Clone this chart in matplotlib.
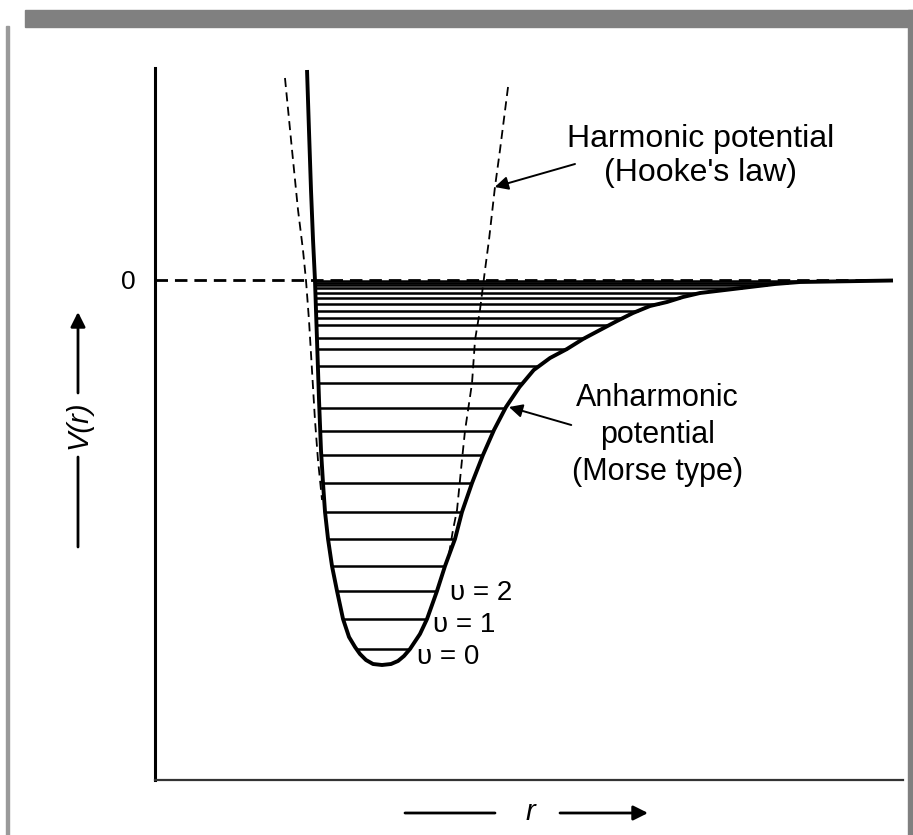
import numpy as np
import matplotlib.pyplot as plt
from matplotlib.patches import Rectangle

plt.rcParams['font.family'] = ['Liberation Sans', 'DejaVu Sans']

# Morse (anharmonic) curve: left wall and right branch
morse_left_r = [2.027, 2.053, 2.08, 2.107, 2.133, 2.16, 2.187, 2.213, 2.24, 2.267,
                2.307, 2.36, 2.427, 2.507, 2.587, 2.667, 2.733, 2.813, 2.907, 3.027]
morse_left_v = [2.10, 1.50, 0.90, 0.40, 0.0, -0.60, -1.20, -1.70, -2.03, -2.32,
                -2.59, -2.86, -3.11, -3.39, -3.57, -3.67, -3.74, -3.80, -3.84, -3.85]
morse_right_r = [3.027, 3.147, 3.24, 3.32, 3.40, 3.533, 3.627, 3.76, 3.867, 4.0,
                 4.093, 4.227, 4.373, 4.52, 4.68, 4.86, 5.05, 5.267, 5.493,
                 5.707, 5.933, 6.16, 6.373, 6.6, 6.827, 7.04, 7.267, 7.6, 7.933,
                 8.267, 8.60, 9.267, 9.84]
morse_right_v = [-3.85, -3.84, -3.81, -3.76, -3.69, -3.54, -3.39, -3.11, -2.86, -2.59,
                 -2.32, -2.03, -1.75, -1.50, -1.27, -1.07, -0.90, -0.78, -0.69,
                 -0.59, -0.50, -0.41, -0.33, -0.26, -0.22, -0.17, -0.13, -0.10, -0.07,
                 -0.04, -0.02, -0.012, -0.005]

# harmonic (Hooke's law) dashed parabola branches
harm_left_r = [1.733, 1.827, 1.907, 1.973, 2.013, 2.053, 2.093, 2.133, 2.173, 2.227]
harm_left_v = [2.02, 1.30, 0.70, 0.30, 0.0, -0.40, -0.90, -1.40, -1.80, -2.20]
harm_right_r = [4.707, 4.60, 4.533, 4.453, 4.40, 4.333, 4.267, 4.227, 4.133, 4.093,
                4.027, 3.973, 3.907]
harm_right_v = [1.93, 1.30, 0.93, 0.40, 0.10, -0.30, -0.60, -1.03, -1.51, -1.80,
                -2.30, -2.50, -2.80]

# vibrational levels
levels = [-3.69, -3.39, -3.11, -2.86, -2.59, -2.32, -2.03, -1.75, -1.51, -1.28,
          -1.03, -0.86, -0.69, -0.58, -0.45, -0.38, -0.31, -0.24, -0.18, -0.13,
          -0.08, -0.05, -0.03, -0.015]
level_labels = ['υ = 0', 'υ = 1', 'υ = 2']
label_dx = [0.09, 0.08, 0.17]
label_dv = [-0.08, -0.06, -0.02]

fig = plt.figure(figsize=(9.13, 8.35), dpi=100)
ax = fig.add_axes([155/913, 55/835, 748/913, 712/835])

# levels between the two walls
lv = np.array(levels)
x_lo = np.interp(lv, morse_left_v[::-1], morse_left_r[::-1])
x_hi = np.interp(lv, morse_right_v, morse_right_r)
ax.hlines(lv, x_lo, x_hi, color='black', lw=1.8)

ax.plot([0, morse_right_r[-1]], [0, 0], color='black', lw=2, ls=(0, (4.5, 2.5)))
ax.plot(harm_left_r, harm_left_v, color='black', lw=1.3, ls=(0, (5, 3)))
ax.plot(harm_right_r, harm_right_v, color='black', lw=1.3, ls=(0, (5, 3)))
ax.plot(morse_left_r + morse_right_r[1:], morse_left_v + morse_right_v[1:],
        color='black', lw=2.8, solid_capstyle='butt', solid_joinstyle='round')

for i, lab in enumerate(level_labels):
    ax.text(x_hi[i] + label_dx[i], levels[i] + label_dv[i], lab, fontsize=20,
            ha='left', va='center')

ax.text(7.27, 1.24, "Harmonic potential\n(Hooke's law)", fontsize=23,
        ha='center', va='center', linespacing=1.2)
ax.text(6.7, -1.55, "Anharmonic\npotential\n(Morse type)", fontsize=22,
        ha='center', va='center', linespacing=1.3)
arr = dict(arrowstyle='-|>', color='black', lw=1.4, mutation_scale=20,
           shrinkA=0, shrinkB=0)
ax.annotate('', xy=(4.53, 0.93), xytext=(5.6, 1.16), arrowprops=arr)
ax.annotate('', xy=(4.72, -1.27), xytext=(5.55, -1.45), arrowprops=arr)

ax.set_xlim(0, 748/75)
ax.set_ylim(-5.0, 2.12)
ax.set_xticks([])
ax.set_yticks([0])
ax.set_yticklabels(['0'])
ax.tick_params(axis='y', length=0, pad=14, labelsize=19)
for s in ['top', 'right']:
    ax.spines[s].set_visible(False)
ax.spines['left'].set_linewidth(2.2)
ax.spines['bottom'].set_linewidth(1.6)
ax.spines['bottom'].set_color('#333333')

# axis labels with arrows, as in the original sketch
W, H = 913, 835
fa = dict(arrowstyle='-|>', color='black', lw=2, mutation_scale=22,
          shrinkA=0, shrinkB=0)
fl = dict(arrowstyle='-', color='black', lw=2, shrinkA=0, shrinkB=0)
fig.text(78/W, 1 - 425/H, 'V(r)', rotation=90, fontsize=21, style='italic',
         ha='center', va='center')
ax.annotate('', xy=(78/W, 1 - 312/H), xytext=(78/W, 1 - 393/H),
            xycoords='figure fraction', textcoords='figure fraction', arrowprops=fa)
ax.annotate('', xy=(78/W, 1 - 547/H), xytext=(78/W, 1 - 457/H),
            xycoords='figure fraction', textcoords='figure fraction', arrowprops=fl)
fig.text(530/W, 1 - 812/H, 'r', fontsize=21, style='italic',
         ha='center', va='center')
ax.annotate('', xy=(495/W, 1 - 813/H), xytext=(405/W, 1 - 813/H),
            xycoords='figure fraction', textcoords='figure fraction', arrowprops=fl)
ax.annotate('', xy=(648/W, 1 - 813/H), xytext=(560/W, 1 - 813/H),
            xycoords='figure fraction', textcoords='figure fraction', arrowprops=fa)

# grey page frame
fig.patches.append(Rectangle((25/W, 1 - 27/H), 888/W, 17/H, transform=fig.transFigure,
                             color='#808080', zorder=0))
fig.patches.append(Rectangle((6/W, 0), 3/W, 1 - 26/H, transform=fig.transFigure,
                             color='#9a9a9a', zorder=0))
fig.patches.append(Rectangle((908/W, 0), 5/W, 1 - 10/H, transform=fig.transFigure,
                             color='#808080', zorder=0))

plt.savefig('out.png', dpi=100)
